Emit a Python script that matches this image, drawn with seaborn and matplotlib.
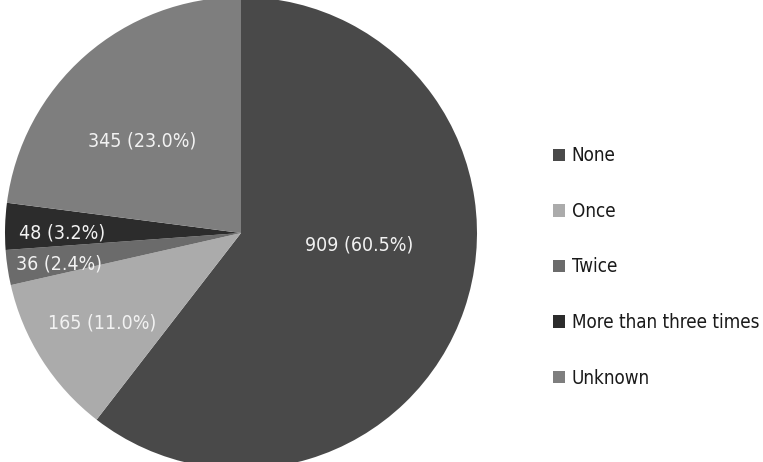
import matplotlib
matplotlib.use("Agg")
import matplotlib.pyplot as plt
import seaborn as sns

# Survey counts per category
categories = ["None", "Once", "Twice", "More than three times", "Unknown"]
counts = [909, 165, 36, 48, 345]
colors = ["#494949", "#ababab", "#6b6b6b", "#2c2c2c", "#7e7e7e"]

# Where each value label sits, in pie units (radius = 1)
label_xy = [(0.50, -0.05), (-0.59, -0.38), (-0.77, -0.13), (-0.76, 0.00), (-0.42, 0.39)]

sns.set_theme(style="white")
plt.rcParams["font.family"] = ["DejaVu Sans"]
plt.rcParams["font.stretch"] = "condensed"

W, H = 763, 462
fig = plt.figure(figsize=(W / 100, H / 100), dpi=100)
fig.patch.set_facecolor("white")

cx, cy, r = 241, 233, 236
ax = fig.add_axes([(cx - r) / W, (H - cy - r) / H, 2 * r / W, 2 * r / H])

wedges, _ = ax.pie(counts, colors=colors, startangle=90, counterclock=False,
                   wedgeprops=dict(linewidth=0), radius=1.0)
ax.set_xlim(-1, 1)
ax.set_ylim(-1, 1)
ax.set_aspect("equal")
ax.axis("off")

total = sum(counts)
for n, (x, y) in zip(counts, label_xy):
    ax.text(x, y, f"{n} ({100 * n / total:.1f}%)", ha="center", va="center",
            color="#f2f2f2", fontsize=14, fontstretch="condensed")

fig.legend(wedges, categories, loc="center left",
           bbox_to_anchor=(553 / W, 1 - 267 / H), frameon=False,
           prop=dict(size=13.5, stretch="condensed"), labelcolor="#1a1a1a",
           handlelength=0.65, handleheight=0.65,
           handletextpad=0.35, labelspacing=1.95, borderpad=0, borderaxespad=0)

fig.savefig("out.png", dpi=100, facecolor="white")
